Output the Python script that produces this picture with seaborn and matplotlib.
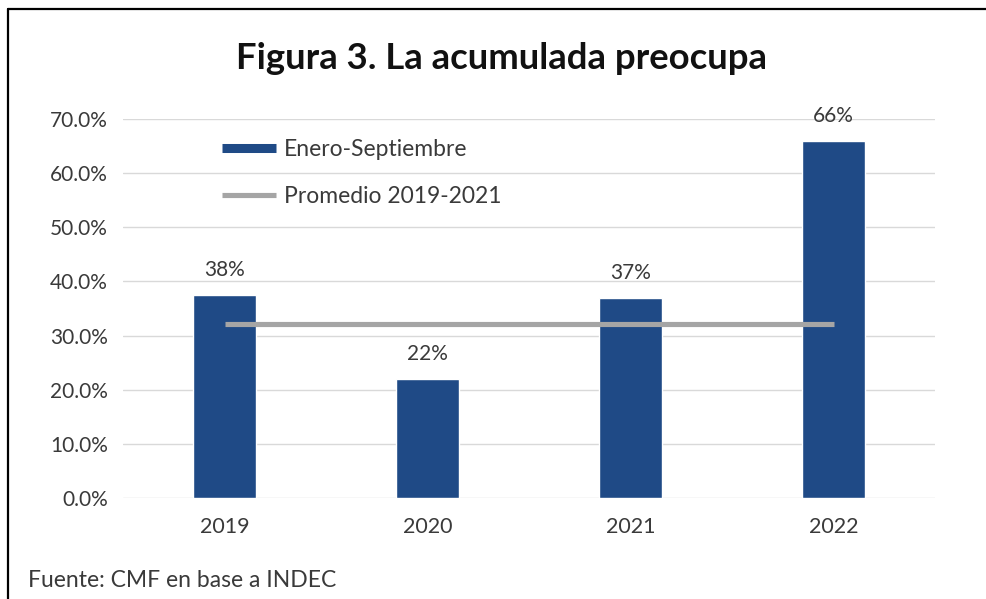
import matplotlib
matplotlib.use("Agg")
import matplotlib.pyplot as plt
from matplotlib.lines import Line2D
from matplotlib.ticker import FuncFormatter, MultipleLocator
import seaborn as sns
import pandas as pd

# ---- data ----
years = ["2019", "2020", "2021", "2022"]
enero_septiembre = [37.5, 22.0, 37.0, 66.0]
bar_labels = ["38%", "22%", "37%", "66%"]
promedio = [32.2, 32.2, 32.2, 32.2]
title = "Figura 3. La acumulada preocupa"
source = "Fuente: CMF en base a INDEC"
legend_labels = ["Enero-Septiembre", "Promedio 2019-2021"]

BAR = "#1F4A86"
GRAY = "#A5A5A5"
TXT = "#3A3A3A"

sns.set_theme(style="white")
plt.rcParams["font.family"] = ["Lato", "DejaVu Sans"]

W, H = 986, 599
fig = plt.figure(figsize=(W / 100, H / 100), dpi=100)
ax = fig.add_axes([123 / W, 1 - 498 / H, (935 - 123) / W, (498 - 119) / H])

df = pd.DataFrame({"year": years, "value": enero_septiembre})
sns.barplot(data=df, x="year", y="value", color=BAR, saturation=1,
            width=0.31, ax=ax, zorder=2)
ax.plot(range(len(years)), promedio, color=GRAY, lw=3.7,
        solid_capstyle="butt", zorder=3)

for i, (v, lab) in enumerate(zip(enero_septiembre, bar_labels)):
    ax.annotate(lab, (i, v), xytext=(0, 13.5), textcoords="offset points",
                ha="center", va="baseline", fontsize=15, color=TXT)

ax.set_xlim(-0.5, 3.5)
ax.set_ylim(0, 70)
ax.yaxis.set_major_locator(MultipleLocator(10))
ax.yaxis.set_major_formatter(FuncFormatter(lambda v, p: f"{v:.1f}%"))
ax.yaxis.grid(True, color="#D9D9D9", lw=1.0, zorder=0)
ax.set_axisbelow(True)
ax.set_xlabel("")
ax.set_ylabel("")
sns.despine(ax=ax, left=True, bottom=True, top=True, right=True)
ax.tick_params(axis="y", length=0, pad=11, labelsize=15, labelcolor=TXT)
ax.tick_params(axis="x", length=0, pad=14, labelsize=15.5, labelcolor=TXT)

handles = [Line2D([], [], color=BAR, lw=6.5, solid_capstyle="butt"),
           Line2D([], [], color=GRAY, lw=3.7, solid_capstyle="butt")]
fig.legend(handles, legend_labels, loc="upper left",
           bbox_to_anchor=(222 / W, 1 - 139 / H), bbox_transform=fig.transFigure,
           frameon=False, fontsize=16.5, labelcolor=TXT, borderpad=0,
           borderaxespad=0, handlelength=2.35, handletextpad=0.35,
           labelspacing=1.12)

fig.text(502 / W, 1 - 69 / H, title, ha="center", va="baseline",
         fontsize=26.3, fontweight="bold", color="#111111")
fig.text(28 / W, 1 - 587 / H, source, ha="left", va="baseline",
         fontsize=16.5, color=TXT)

# frame lines (left and top) as in the reference
fig.add_artist(Line2D([8 / W, 8 / W], [0, 1 - 9 / H], color="black", lw=1.6,
                      transform=fig.transFigure))
fig.add_artist(Line2D([8 / W, 1], [1 - 9 / H, 1 - 9 / H], color="black", lw=1.6,
                      transform=fig.transFigure))

fig.savefig("out.png", dpi=100)
